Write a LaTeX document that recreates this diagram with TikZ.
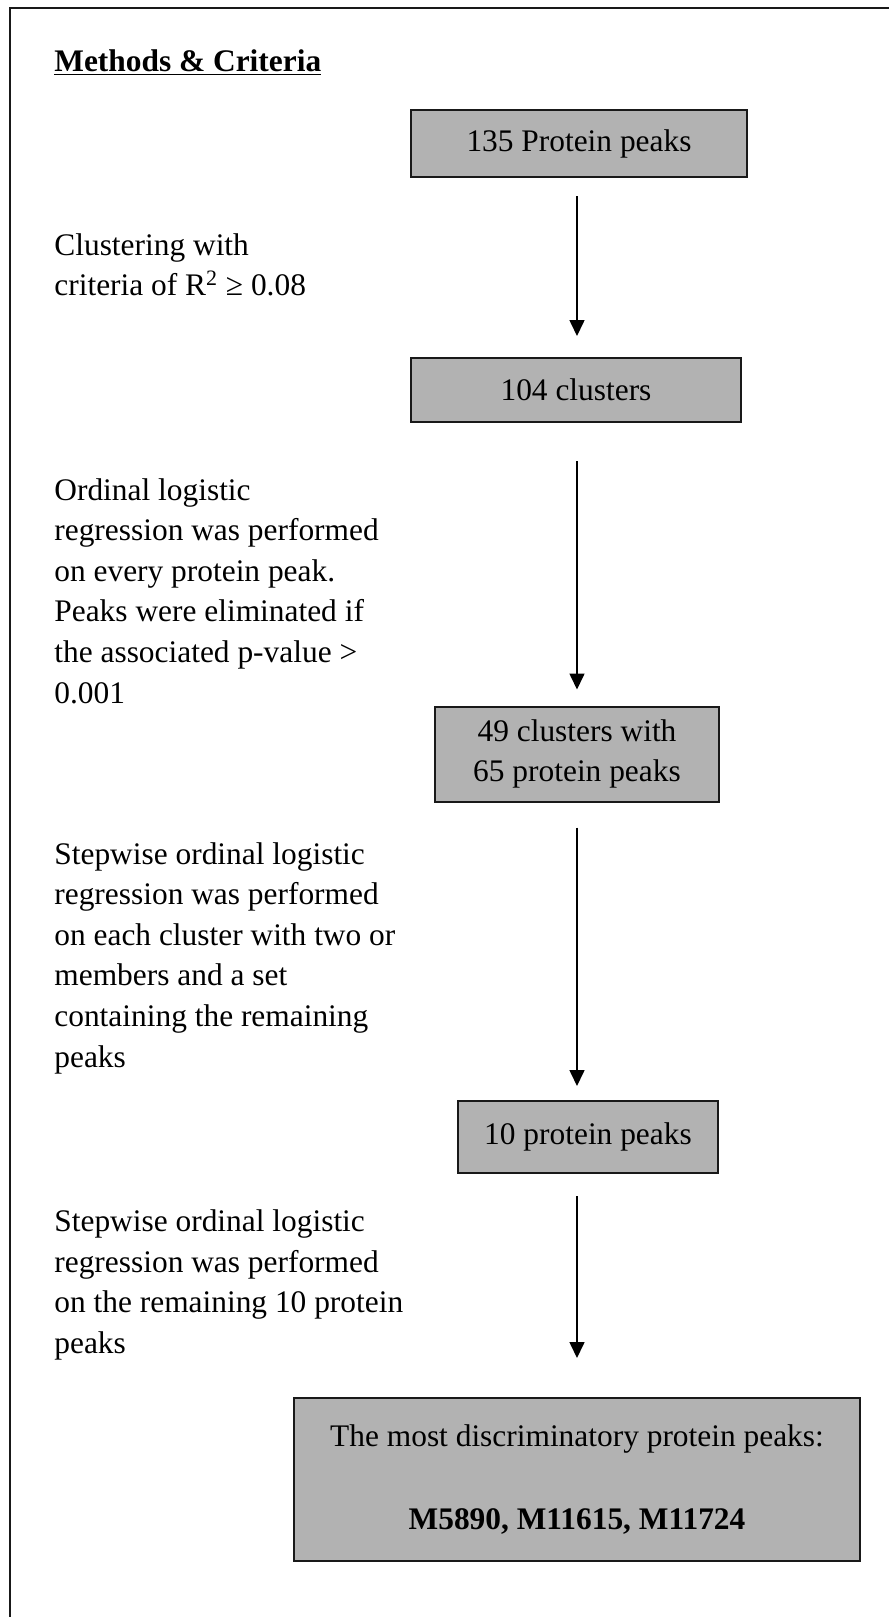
\documentclass[tikz,border=0pt]{standalone}
\usepackage{fontspec}
\setmainfont{Liberation Serif}
\usepackage{tikz}
\usepackage{xcolor}
\usetikzlibrary{arrows.meta,positioning,calc}
\definecolor{BoxGray}{RGB}{178,178,178}
\definecolor{EdgeBlack}{RGB}{25,25,25}
\tikzset{
  stagebox/.style={draw=EdgeBlack, line width=1pt, fill=BoxGray, align=center, inner sep=0pt},
  notetext/.style={anchor=west, align=left, inner sep=0pt},
  flow/.style={line width=0.8pt, -{Triangle[length=8pt, width=7.5pt]}}
}
\begin{document}
\begin{tikzpicture}[x=0.5pt, y=-0.5pt, font=\fontsize{15.7}{20.3}\selectfont]
      \useasboundingbox (0,0) rectangle (889,1617);
      \draw[line width=1pt, EdgeBlack] (10,1617) -- (10,8) -- (889,8);
      \node[notetext] (title) at (54,63) {\underline{\textbf{Methods \& Criteria}}};
      % flow boxes
      \node[stagebox, minimum width=168pt, minimum height=33.5pt] (peaks) at (579,143.5) {135 Protein peaks};
      \node[stagebox, minimum width=165pt, minimum height=32pt] (clusters) at (576,390) {104 clusters};
      \node[stagebox, minimum width=142pt, minimum height=47.5pt] (kept) at (577,754) {49 clusters with\\65 protein peaks};
      \node[stagebox, minimum width=130pt, minimum height=36pt] (ten) at (588,1137) {10 protein peaks};
      \node[stagebox, minimum width=283pt, minimum height=81.5pt] (final) at (577,1479.5)
        {The most discriminatory protein peaks:\\[21pt]\textbf{M5890, M11615, M11724}};
      % criteria on the left
      \node[notetext] (crit1) at (54,265) {Clustering with\\criteria of R\textsuperscript{2} ≥ 0.08};
      \node[notetext] (crit2) at (54,591) {Ordinal logistic\\regression was performed\\on every protein peak.\\Peaks were eliminated if\\the associated p-value >\\0.001};
      \node[notetext] (crit3) at (54,958) {Stepwise ordinal logistic\\regression was performed\\on each cluster with two or\\members and a set\\containing the remaining\\peaks};
      \node[notetext] (crit4) at (54,1285) {Stepwise ordinal logistic\\regression was performed\\on the remaining 10 protein\\peaks};
      % arrows
      \draw[flow, shorten <=9pt, shorten >=10.5pt] (peaks.south -| final.north) -- (clusters.north -| final.north);
      \draw[flow, shorten <=19pt, shorten >=8pt] (clusters.south -| final.north) -- (kept.north -| final.north);
      \draw[flow, shorten <=12.5pt, shorten >=7pt] (kept.south -| final.north) -- (ten.north -| final.north);
      \draw[flow, shorten <=11pt, shorten >=19.5pt] (ten.south -| final.north) -- (final.north);
    \end{tikzpicture}
\end{document}
